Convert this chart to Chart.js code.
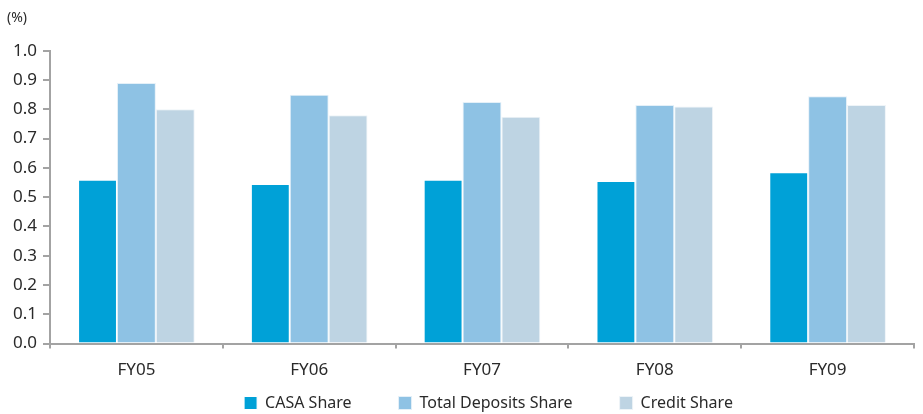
<!DOCTYPE html>
<html>
<head>
<meta charset="utf-8">
<script src="https://cdn.jsdelivr.net/npm/chart.js@4"></script>
<style>
  html, body { margin: 0; padding: 0; background: #fff; }
  .chart-container { position: relative; width: 923px; height: 414px; }
</style>
</head>
<body>
<div class="chart-container">
  <canvas id="chart"></canvas>
</div>
<script>
const years = ["FY05", "FY06", "FY07", "FY08", "FY09"];
const casaShare = [0.56, 0.545, 0.56, 0.555, 0.585];
const totalDepositsShare = [0.89, 0.85, 0.825, 0.815, 0.845];
const creditShare = [0.80, 0.78, 0.775, 0.81, 0.815];
const yTicks = [0.0, 0.1, 0.2, 0.3, 0.4, 0.5, 0.6, 0.7, 0.8, 0.9, 1.0];

const axisGrey = "#a3a3a3";
const textColor = "#2a2a2a";
const fontFamily = "'Noto Sans', 'DejaVu Sans', sans-serif";
const legendGap = 47;

// keep the wide gaps between legend items but not the tall empty band above them
const legendFit = {
    id: "legendFit",
    beforeInit(chart) {
        const legend = chart.legend;
        const fit = legend.fit;
        legend.fit = function () {
            fit.call(this);
            this.height = 21;
        };
        legend.draw = function () {
            if (this.options.display) this._draw();
        };
    },
    afterLayout(chart) {
        const lg = chart.legend;
        const dy = lg.top + legendGap - 395;
        lg.top -= dy;
        lg.bottom -= dy;
        lg.left += 28;
        lg.right += 28;
    },
};

const ctx = document.getElementById("chart").getContext("2d");
new Chart(ctx, {
    type: "bar",
    data: {
        labels: years,
        datasets: [
            {
                label: "CASA Share",
                data: casaShare,
                backgroundColor: "#00a1d7",
                borderColor: "#ffffff",
                borderWidth: 1,
            },
            {
                label: "Total Deposits Share",
                data: totalDepositsShare,
                backgroundColor: "#8ec2e4",
                borderColor: "#e4f0f8",
                borderWidth: 1,
            },
            {
                label: "Credit Share",
                data: creditShare,
                backgroundColor: "#bed4e3",
                borderColor: "#eef4f8",
                borderWidth: 1,
            },
        ],
    },
    options: {
        animation: false,
        responsive: true,
        maintainAspectRatio: false,
        layout: { padding: { left: 7, right: 9, top: 0, bottom: 2 } },
        datasets: {
            bar: { barPercentage: 1.0, categoryPercentage: 0.675 },
        },
        plugins: {
            title: {
                display: true,
                text: "(%)",
                align: "start",
                color: textColor,
                font: { family: fontFamily, size: 14, weight: "normal" },
                padding: { top: 10, bottom: 24 },
            },
            legend: {
                position: "bottom",
                labels: {
                    color: textColor,
                    font: { family: fontFamily, size: 16 },
                    boxWidth: 13,
                    boxHeight: 13,
                    padding: legendGap,
                    useBorderRadius: false,
                },
            },
            tooltip: { enabled: false },
        },
        scales: {
            y: {
                min: 0,
                max: 1,
                afterBuildTicks: (axis) => {
                    axis.ticks = yTicks.map((v) => ({ value: v }));
                },
                ticks: {
                    color: textColor,
                    font: { family: fontFamily, size: 17 },
                    padding: 6,
                    callback: (v) => Number(v).toFixed(1),
                },
                grid: {
                    drawOnChartArea: false,
                    drawTicks: true,
                    tickLength: 7,
                    color: axisGrey,
                    lineWidth: 2,
                },
                border: { color: axisGrey, width: 2 },
            },
            x: {
                ticks: {
                    color: textColor,
                    font: { family: fontFamily, size: 17 },
                    padding: 11,
                },
                grid: {
                    offset: true,
                    drawOnChartArea: false,
                    drawTicks: true,
                    tickLength: 5,
                    color: axisGrey,
                    lineWidth: 2,
                },
                border: { color: axisGrey, width: 2 },
            },
        },
    },
    plugins: [legendFit],
});
</script>
</body>
</html>
